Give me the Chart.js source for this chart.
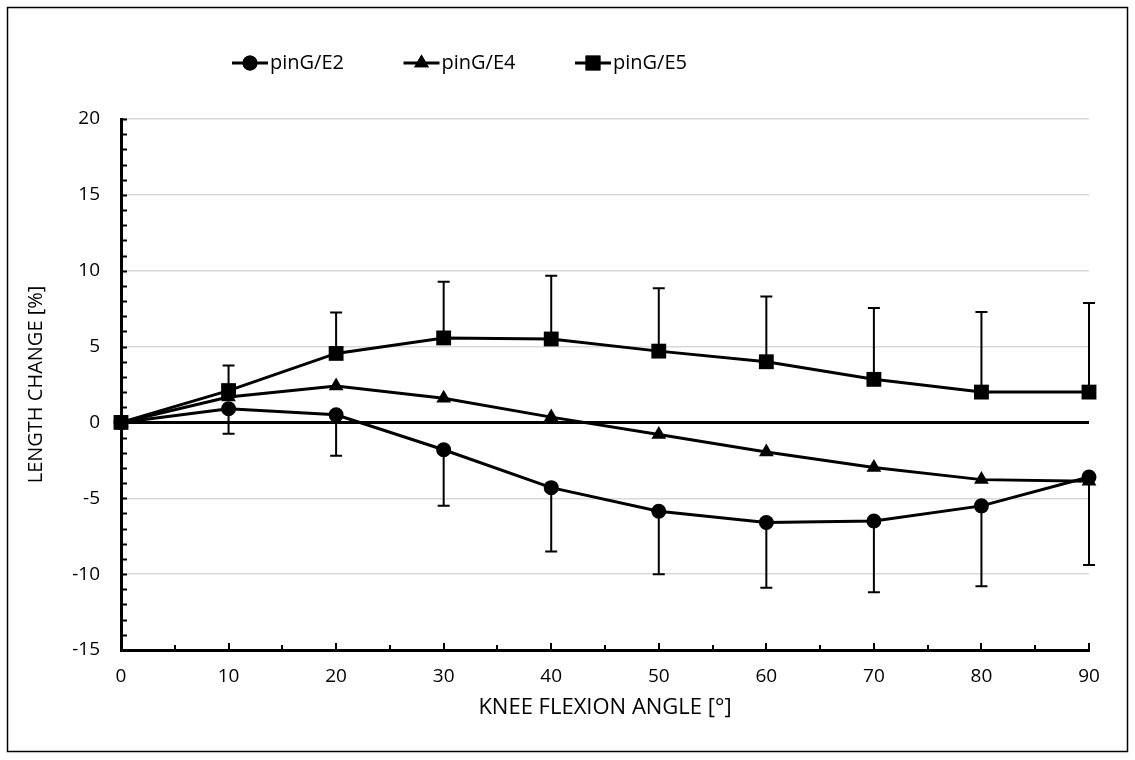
<!DOCTYPE html>
<html>
<head>
<meta charset="utf-8">
<script src="https://cdn.jsdelivr.net/npm/chart.js@4.4.1/dist/chart.umd.min.js"></script>
<style>
  html, body { margin: 0; padding: 0; background: #fff; }
  #wrap { width: 1135px; height: 760px; position: relative; }
</style>
</head>
<body>
<div id="wrap"><canvas id="chart" width="1135" height="760"></canvas></div>
<script>
// knee flexion angles (x)
const angles = [0, 10, 20, 30, 40, 50, 60, 70, 80, 90];

// mean length change [%]
const e2Values = [0, 0.9, 0.5, -1.8, -4.3, -5.85, -6.6, -6.5, -5.5, -3.6];
const e4Values = [0, 1.67, 2.4, 1.6, 0.35, -0.8, -1.95, -2.97, -3.77, -3.87];
const e5Values = [0, 2.1, 4.55, 5.57, 5.5, 4.7, 4.0, 2.84, 2.0, 2.0];

// standard deviations (E2 drawn downwards, E5 upwards)
const e2Sd = [0, 1.65, 2.7, 3.7, 4.2, 4.15, 4.3, 4.7, 5.3, 5.8];
const e5Sd = [0, 1.65, 2.7, 3.7, 4.17, 4.15, 4.3, 4.71, 5.28, 5.88];

const seriesLabels = ["pinG/E2", "pinG/E4", "pinG/E5"];
const pointStyles = ["circle", "triangle", "rect"];

const yMin = -15, yMax = 20, yStep = 5;
const xMin = 0, xMax = 90, xStep = 10;

const FONT = "'Open Sans', 'Liberation Sans', sans-serif";

function toPoints(values) {
  return angles.map((a, i) => ({ x: a, y: values[i] }));
}

// outer frame, inner tick marks, error bars, legend, x title
const decorations = {
  id: "decorations",
  beforeDraw(chart) {
    const ctx = chart.ctx;
    ctx.save();
    ctx.fillStyle = "#fff";
    ctx.fillRect(0, 0, chart.width, chart.height);
    ctx.strokeStyle = "#000";
    ctx.lineWidth = 1.5;
    ctx.strokeRect(7.5, 7.5, chart.width - 15, chart.height - 16);
    ctx.restore();
  },
  beforeDatasetsDraw(chart) {
    const ctx = chart.ctx;
    const xs = chart.scales.x, ys = chart.scales.y;
    ctx.save();
    ctx.strokeStyle = "#000";
    ctx.lineWidth = 2;
    const bars = [
      { values: e2Values, sd: e2Sd, dir: -1 },
      { values: e5Values, sd: e5Sd, dir: 1 },
    ];
    bars.forEach(b => {
      angles.forEach((a, i) => {
        if (!b.sd[i]) return;
        const px = xs.getPixelForValue(a);
        const p0 = ys.getPixelForValue(b.values[i]);
        const p1 = ys.getPixelForValue(b.values[i] + b.dir * b.sd[i]);
        ctx.beginPath();
        ctx.moveTo(px, p0);
        ctx.lineTo(px, p1);
        ctx.moveTo(px - 6, p1);
        ctx.lineTo(px + 6, p1);
        ctx.stroke();
      });
    });
    ctx.restore();
  },
  afterDraw(chart) {
    const ctx = chart.ctx;
    const xs = chart.scales.x, ys = chart.scales.y;
    const area = chart.chartArea;
    ctx.save();
    ctx.strokeStyle = "#000";
    ctx.lineWidth = 2;
    // y ticks every 1, pointing inside
    ctx.beginPath();
    for (let v = yMin; v <= yMax; v++) {
      const py = Math.round(ys.getPixelForValue(v)) + 0.5;
      ctx.moveTo(area.left, py);
      ctx.lineTo(area.left + 6, py);
    }
    // x ticks every 5, pointing up
    for (let v = xMin + 5; v <= xMax; v += 5) {
      const px = Math.round(xs.getPixelForValue(v));
      const len = v % 10 === 0 ? 7 : 5;
      ctx.moveTo(px, area.bottom);
      ctx.lineTo(px, area.bottom - len);
    }
    ctx.stroke();

    // legend
    const legendY = 63;
    const startX = 232, itemGap = 171.5, lineLen = 36;
    chart.data.datasets.forEach((ds, i) => {
      const x0 = startX + i * itemGap;
      ctx.strokeStyle = "#000";
      ctx.lineWidth = 3;
      ctx.beginPath();
      ctx.moveTo(x0, legendY);
      ctx.lineTo(x0 + lineLen, legendY);
      ctx.stroke();
      Chart.helpers.drawPoint(ctx, {
        pointStyle: ds.pointStyle, radius: ds.pointRadius,
        borderWidth: 0, rotation: 0
      }, x0 + lineLen / 2, legendY);
      ctx.fillStyle = "#000";
      ctx.fill();
      ctx.font = "20px " + FONT;
      ctx.textBaseline = "middle";
      ctx.textAlign = "left";
      ctx.fillText(ds.label, x0 + lineLen + 2, legendY);
    });

    // x axis title
    ctx.font = "22px " + FONT;
    ctx.textAlign = "center";
    ctx.textBaseline = "middle";
    ctx.fillStyle = "#000";
    ctx.fillText("KNEE FLEXION ANGLE [°]", (area.left + area.right) / 2, 708);
    ctx.restore();
  }
};

const datasetStyle = {
  borderColor: "#000",
  backgroundColor: "#000",
  pointBackgroundColor: "#000",
  pointBorderColor: "#000",
  borderWidth: 3,
  pointBorderWidth: 0,
  tension: 0,
  clip: false,
};

new Chart(document.getElementById("chart"), {
  type: "line",
  data: {
    datasets: [
      { ...datasetStyle, label: seriesLabels[0], data: toPoints(e2Values),
        pointStyle: pointStyles[0], pointRadius: 7.5 },
      { ...datasetStyle, label: seriesLabels[1], data: toPoints(e4Values),
        pointStyle: pointStyles[1], pointRadius: 8.5 },
      { ...datasetStyle, label: seriesLabels[2], data: toPoints(e5Values),
        pointStyle: pointStyles[2], pointRadius: 10.5 },
    ],
  },
  options: {
    responsive: false,
    animation: false,
    events: [],
    layout: { padding: { top: 119, right: 46, left: 0, bottom: 0 } },
    plugins: {
      legend: { display: false },
      tooltip: { enabled: false },
    },
    scales: {
      x: {
        type: "linear",
        min: xMin,
        max: xMax,
        afterFit: s => { s.height = 110; },
        ticks: {
          stepSize: xStep,
          color: "#000",
          padding: 15,
          maxRotation: 0,
          font: { family: FONT, size: 19 },
        },
        grid: { display: false, drawTicks: false },
        border: { display: true, color: "#000", width: 3 },
        title: { display: false },
      },
      y: {
        min: yMin,
        max: yMax,
        afterFit: s => { s.width = 121; },
        ticks: {
          stepSize: yStep,
          color: "#000",
          padding: 21,
          font: { family: FONT, size: 19 },
        },
        grid: {
          drawTicks: false,
          color: c => (c.tick && c.tick.value === 0 ? "#000" : "#d9d9d9"),
          lineWidth: c => (c.tick && c.tick.value === 0 ? 3 : 1.5),
        },
        border: { display: true, color: "#000", width: 3 },
        title: {
          display: true,
          text: "LENGTH CHANGE [%]",
          color: "#000",
          font: { family: FONT, size: 20 },
          padding: { top: 24, bottom: 0 },
        },
      },
    },
  },
  plugins: [decorations],
});
</script>
</body>
</html>
